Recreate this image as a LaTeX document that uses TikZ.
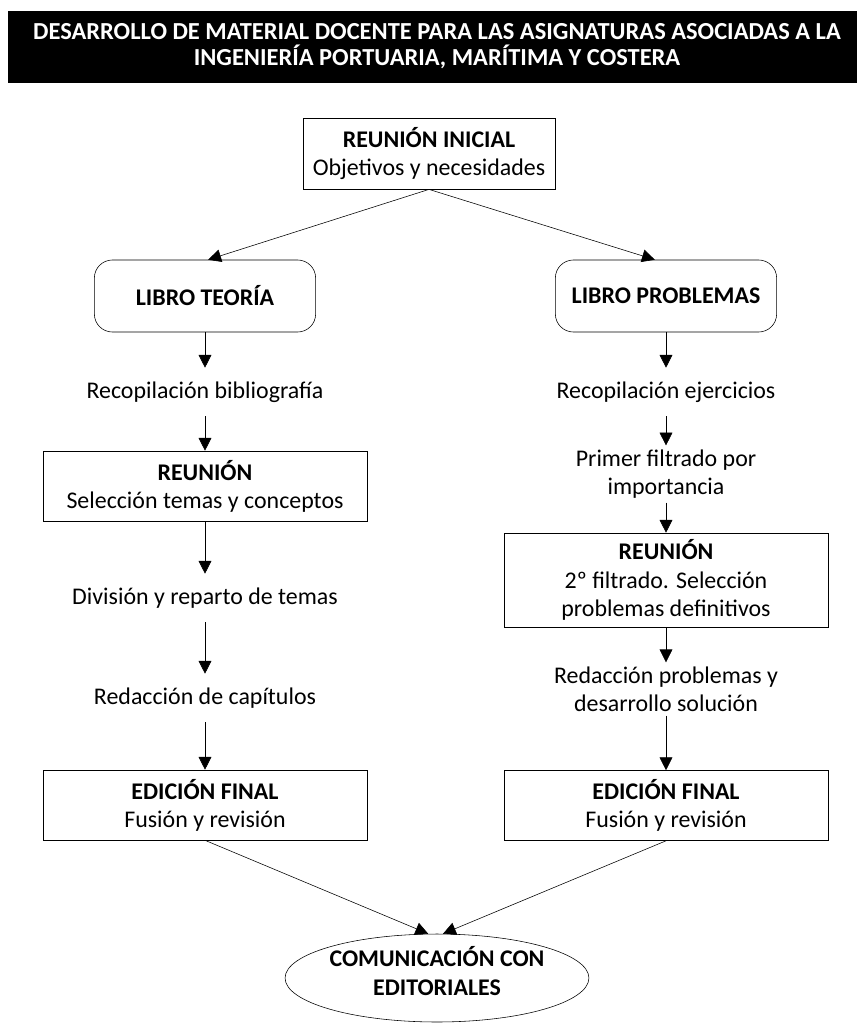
\documentclass[tikz,border=0pt]{standalone}
\usepackage{fontspec}
\setmainfont{Carlito}
\usetikzlibrary{arrows.meta, shapes.geometric}
\tikzstyle{box} = [draw, align=center, minimum width=8.1cm, minimum height=1.75cm, inner sep=0]
\tikzstyle{libro} = [draw, align=center, rounded corners=0.45cm, minimum width=5.53cm, minimum height=1.8cm, font=\fontsize{17pt}{20pt}\selectfont\bfseries]
\tikzstyle{txt} = [align=center, inner sep=0.1cm, minimum height=1.2cm]
\tikzstyle{arr} = [-{Triangle[length=0.32cm,width=0.32cm]}]

\begin{document}
\begin{tikzpicture}[x=0.025cm, y=-0.025cm, font=\fontsize{17pt}{20pt}\selectfont]
		\useasboundingbox (0,0) rectangle (857,1025);
		\fill[black] (8,11) rectangle (857,83);
		\node [align=center, text=white, font=\fontsize{17.4pt}{18pt}\selectfont\bfseries](titulo) at (437,46){DESARROLLO DE MATERIAL DOCENTE PARA LAS ASIGNATURAS ASOCIADAS A LA\\INGENIERÍA PORTUARIA, MARÍTIMA Y COSTERA};

		\node [box,minimum width=6.3cm,minimum height=1.78cm](ini) at (429,153.5){\textbf{REUNIÓN INICIAL}\\Objetivos y necesidades};

		% columna teoria
		\node [libro](teo) at (205,296){LIBRO TEORÍA};
		\node [txt](biblio) at (205,392){Recopilación bibliografía};
		\node [box](reut) at (205,486){\textbf{REUNIÓN}\\Selección temas y conceptos};
		\node [txt](divis) at (205,598){División y reparto de temas};
		\node [txt](capit) at (205,698){Redacción de capítulos};
		\node [box](edit) at (205,805){\textbf{EDICIÓN FINAL}\\Fusión y revisión};

		% columna problemas
		\node [libro](prob) at (666,296){LIBRO PROBLEMAS};
		\node [txt](ejerc) at (666,392){Recopilación ejercicios};
		\node [txt](filt) at (666,474){Primer filtrado por\\importancia};
		\node [box,minimum height=2.35cm](reup) at (666,580){\textbf{REUNIÓN}\\2º filtrado. Selección\\problemas definitivos};
		\node [txt](redac) at (666,689){Redacción problemas y\\desarrollo solución};
		\node [box](edip) at (666,805.5){\textbf{EDICIÓN FINAL}\\Fusión y revisión};

		\node [draw,ellipse,align=center,minimum width=7.5cm,minimum height=2.15cm,inner sep=0,font=\fontsize{17pt}{20pt}\selectfont\bfseries](com) at (437,978){COMUNICACIÓN CON\\EDITORIALES\rule[-0.35cm]{0pt}{0pt}};

		\draw[arr](ini.south)--([xshift=0.08cm]teo.north);
		\draw[arr](ini.south)--([xshift=-0.28cm]prob.north);

		\draw[arr](teo)--(biblio);
		\draw[arr](biblio)--(reut);
		\draw[arr](reut)--(divis);
		\draw[arr](divis)--(capit);
		\draw[arr](capit)--(edit);

		\draw[arr](prob)--(ejerc);
		\draw[arr](ejerc)--(filt);
		\draw[arr](filt)--(reup);
		\draw[arr](reup)--(redac);
		\draw[arr](redac)--(edip);

		\draw[arr](edit.south)--([xshift=-0.22cm]com.north);
		\draw[arr](edip.south)--([xshift=0.15cm]com.north);
\end{tikzpicture}
\end{document}
